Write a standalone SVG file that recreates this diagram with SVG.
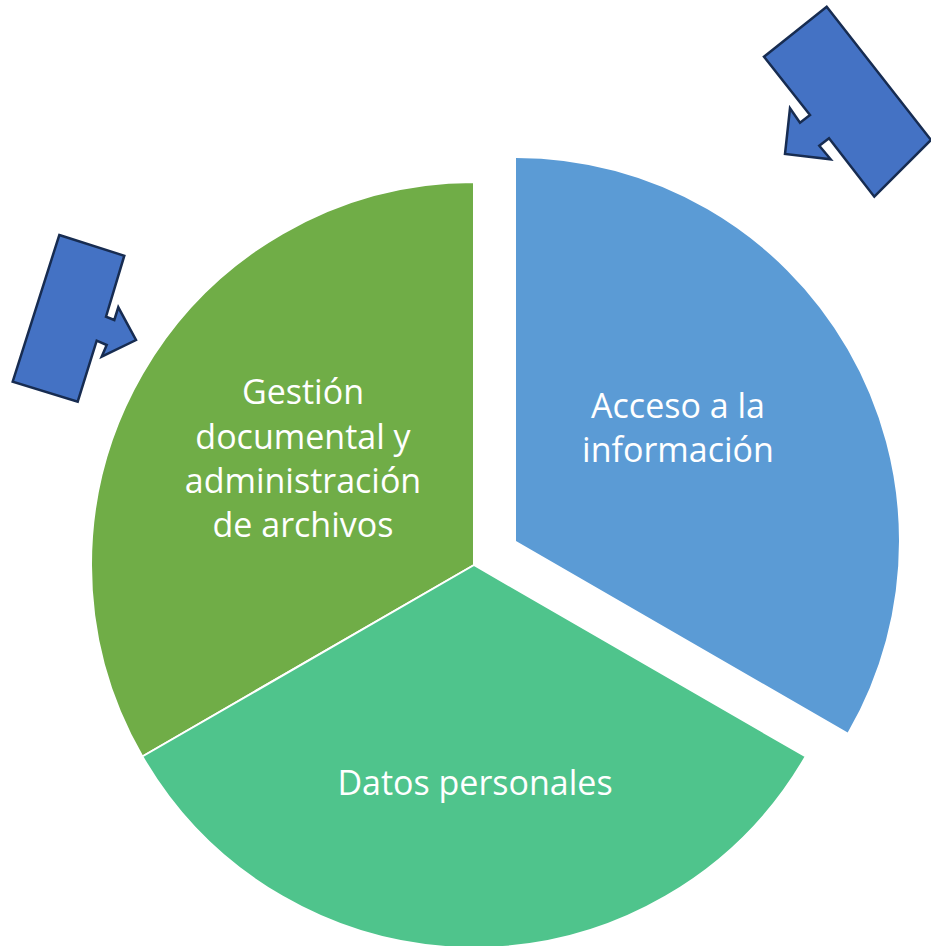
<svg xmlns="http://www.w3.org/2000/svg" width="931" height="946" viewBox="0 0 931 946">
<style>
.seg{stroke:#ffffff;stroke-width:2;stroke-linejoin:round}
.lbl{font-family:"Open Sans","Liberation Sans",sans-serif;font-size:34px;fill:#ffffff;text-anchor:middle}
.callout{fill:#4472C4;stroke:#172C51;stroke-width:2.5;stroke-linejoin:miter}
</style>
<rect width="931" height="946" fill="#ffffff"/>
<g id="seg-gestion">
<path class="seg" fill="#70AD47" d="M474,565 L474,182 A383,383 0 0 0 142.3,756.5 Z"/>
<text class="lbl"><tspan x="303" y="404">Gestión</tspan><tspan x="303" y="449">documental y</tspan><tspan x="303" y="493">administración</tspan><tspan x="303" y="537">de archivos</tspan></text>
</g>
<g id="seg-datos">
<path class="seg" fill="#4FC48C" d="M474,565 L142.3,756.5 A383,383 0 0 0 805.7,756.5 Z"/>
<text class="lbl" x="475" y="795">Datos personales</text>
</g>
<g id="seg-acceso">
<path fill="#5B9BD5" d="M516,541 L516,158 A383,383 0 0 1 847.7,732.5 Z"/>
<text class="lbl"><tspan x="678" y="418">Acceso a la</tspan><tspan x="678" y="462">información</tspan></text>
</g>
<g id="callout-left">
<path class="callout" d="M59.3,235 L124.3,255.7 L106,316.7 L114.3,320 L118.3,307.3 L136,340 L101.7,356.7 L106.7,345 L96.7,340.7 L77.7,401.7 L12.7,381.7 Z"/>
</g>
<g id="callout-right">
<path class="callout" d="M826.7,6.7 L931,140 L874.3,196.7 L829,138.3 L819.3,145.7 L830.7,159.3 L785,154 L790,108.3 L800,122.7 L810,115 L764,56.7 Z"/>
</g>
</svg>
